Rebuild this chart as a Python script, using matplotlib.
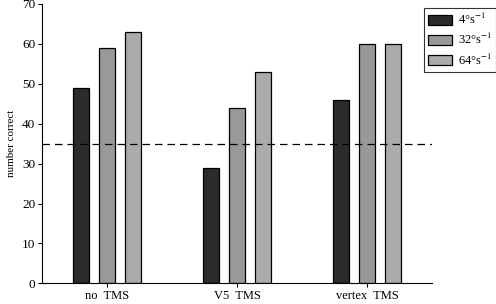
import numpy as np
import matplotlib
matplotlib.use('Agg')
import matplotlib.pyplot as plt

plt.rcParams['font.family'] = ['Liberation Serif', 'DejaVu Serif']
plt.rcParams['mathtext.fontset'] = 'stix'

# data
conditions = ['no  TMS', 'V5  TMS', 'vertex  TMS']
speeds = ['4°s$^{-1}$', '32°s$^{-1}$', '64°s$^{-1}$']
speed_4 = [49, 29, 46]
speed_32 = [59, 44, 60]
speed_64 = [63, 53, 60]
chance = 35

colors = ['#2b2b2b', '#999999', '#ababab']

fig = plt.figure(figsize=(4.96, 3.04), dpi=100)
ax = fig.add_axes([0.085, 0.068, 0.786, 0.919])

x = np.arange(len(conditions))
w = 0.125
for i, (vals, lab) in enumerate(zip([speed_4, speed_32, speed_64], speeds)):
    ax.bar(x + (i - 1) * 0.2, vals, w, color=colors[i], edgecolor='black',
           linewidth=0.9, label=lab)

ax.axhline(chance, color='black', lw=0.9, ls=(0, (6, 4)))

ax.set_xlim(-0.5, 2.5)
ax.set_ylim(0, 70)
ax.set_yticks(range(0, 71, 10))
ax.set_xticks(x)
ax.set_xticklabels(conditions)
ax.tick_params(labelsize=9.5, length=3, width=0.8, pad=2)
ax.tick_params(axis='x', labelsize=9, pad=2)
ax.set_ylabel('number correct', fontsize=8, labelpad=4)
for s in ['top', 'right']:
    ax.spines[s].set_visible(False)
for s in ['left', 'bottom']:
    ax.spines[s].set_linewidth(0.8)

leg = ax.legend(loc='upper left', bbox_to_anchor=(0.979, 0.986), fontsize=9,
                frameon=True, fancybox=False, shadow=False, edgecolor='black',
                handlelength=1.9, handleheight=0.9, borderpad=0.35,
                labelspacing=0.4, handletextpad=0.45, borderaxespad=0)
leg.get_frame().set_linewidth(0.8)
leg.set_zorder(5)

fig.savefig('out.png', dpi=100)
